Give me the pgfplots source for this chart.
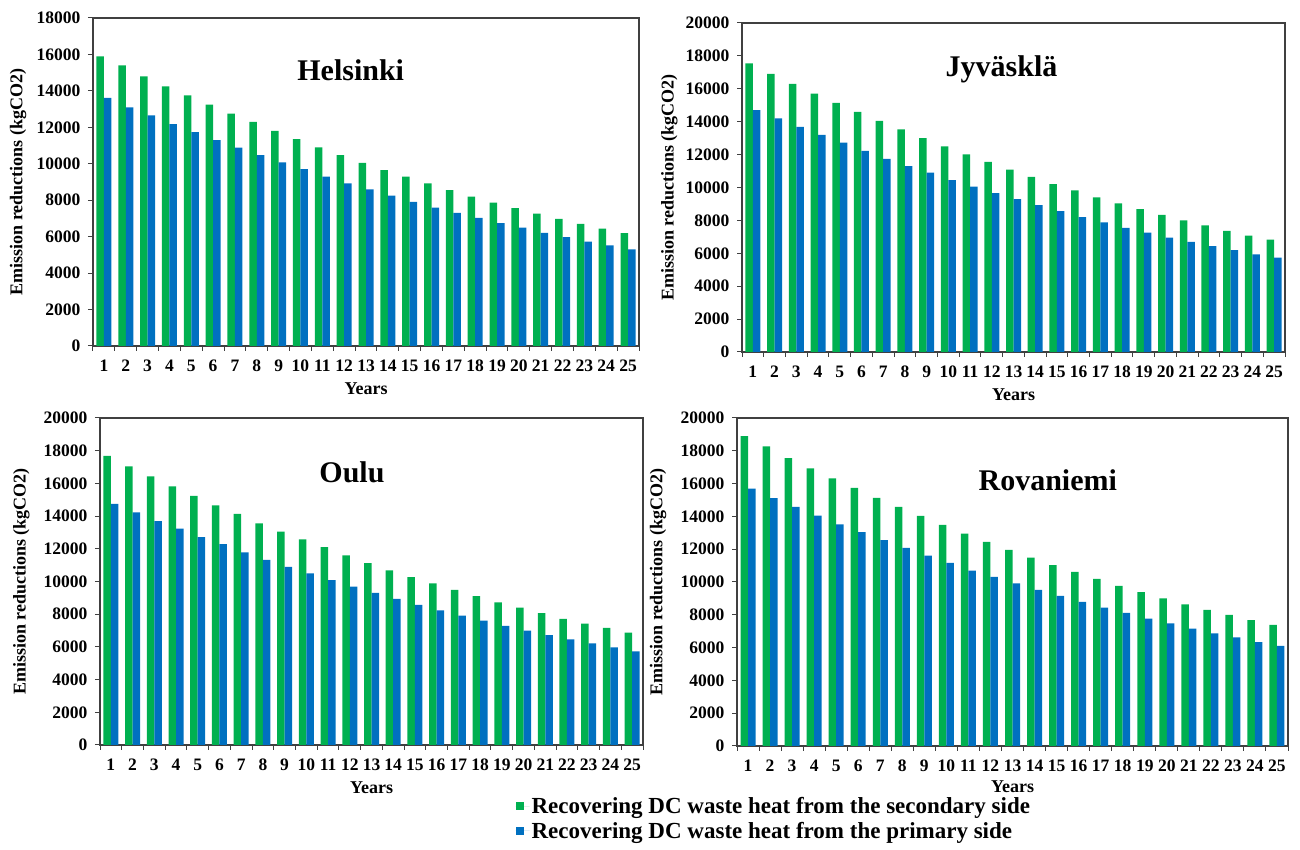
\documentclass[border=0pt]{standalone}
\usepackage{fontspec}
\setmainfont{Liberation Serif}
\usepackage{pgfplots}
\pgfplotsset{compat=1.18}
\usepackage{pgfplotstable}
\definecolor{cgreen}{RGB}{0,176,80}
\definecolor{cblue}{RGB}{0,112,192}
\definecolor{axgray}{RGB}{64,64,64}

\pgfplotstableread{
x g b
1 15900 13620
2 15400 13100
3 14800 12650
4 14250 12170
5 13750 11730
6 13250 11300
7 12750 10880
8 12300 10480
9 11800 10070
10 11350 9700
11 10900 9300
12 10480 8930
13 10050 8600
14 9650 8250
15 9300 7910
16 8920 7600
17 8560 7300
18 8200 7030
19 7870 6740
20 7560 6490
21 7260 6210
22 6980 5980
23 6700 5730
24 6440 5520
25 6200 5300
}\helsinki

\pgfplotstableread{
x g b
1 17550 14700
2 16900 14200
3 16300 13680
4 15700 13200
5 15150 12720
6 14600 12230
7 14050 11740
8 13530 11300
9 13000 10900
10 12500 10450
11 12020 10050
12 11550 9660
13 11090 9300
14 10650 8930
15 10200 8560
16 9820 8200
17 9400 7880
18 9040 7550
19 8680 7260
20 8330 6950
21 8000 6690
22 7690 6430
23 7370 6200
24 7080 5940
25 6830 5730
}\jyvaskyla

\pgfplotstableread{
x g b
1 17680 14740
2 17040 14230
3 16430 13700
4 15820 13240
5 15230 12710
6 14660 12280
7 14130 11780
8 13560 11330
9 13050 10900
10 12570 10500
11 12100 10090
12 11600 9690
13 11130 9300
14 10680 8930
15 10270 8570
16 9890 8240
17 9480 7920
18 9100 7610
19 8730 7290
20 8400 7000
21 8060 6720
22 7720 6460
23 7430 6210
24 7170 5970
25 6880 5730
}\oulu

\pgfplotstableread{
x g b
1 18900 15700
2 18270 15120
3 17560 14580
4 16930 14050
5 16320 13520
6 15740 13040
7 15130 12550
8 14580 12080
9 14030 11610
10 13480 11170
11 12950 10700
12 12450 10310
13 11960 9910
14 11490 9520
15 11030 9160
16 10620 8790
17 10190 8430
18 9770 8120
19 9380 7760
20 9000 7470
21 8630 7150
22 8300 6860
23 8000 6620
24 7680 6340
25 7390 6110
}\rovaniemi

\pgfplotsset{
  panel/.style={
    scale only axis, anchor=south west,
    ybar=0pt, bar width=7.5pt,
    xmin=0.5, xmax=25.5, ymin=0,
    xtick={1,...,25},
    minor xtick={0.5,1.5,...,25.5},
    tick align=outside, tick pos=left,
    major tick length=5pt, minor tick length=5pt,
    tick style={line width=1pt, color=axgray},
    major x tick style={draw=none},
    ytick distance=2000,
    scaled y ticks=false,
    /pgf/number format/assume math mode=true,
    yticklabel style={/pgf/number format/1000 sep={}, xshift=-4pt},
    xticklabel style={yshift=-5pt, text height=12pt, text depth=0pt},
    tick label style={font=\fontsize{17.5}{17.5}\selectfont\bfseries},
    axis line style={line width=1.3pt, color=axgray},
    label style={font=\fontsize{18}{18}\selectfont\bfseries},
    xlabel={Years},
    ylabel={Emission reductions (kgCO2)},
    xlabel style={at={(axis description cs:0.5,-0.131)}, anchor=center},
  },
  gbar/.style={fill=cgreen, draw=none},
  bbar/.style={fill=cblue, draw=none},
}

\begin{document}
\begin{tikzpicture}
\useasboundingbox (0pt,0pt) rectangle (1300pt,850pt);

% Helsinki
\begin{axis}[panel, at={(93pt,504pt)}, width=546pt, height=328pt, ymax=18000,
  ylabel style={at={(axis description cs:-0.137,0.5)}, anchor=center}]
\addplot[gbar] table[x=x,y=g]{\helsinki};
\addplot[bbar] table[x=x,y=b]{\helsinki};
\node[font=\fontsize{30}{30}\selectfont\bfseries] at (rel axis cs:0.472,0.84) {Helsinki};
\end{axis}

% Jyvaskyla
\begin{axis}[panel, at={(742pt,498pt)}, width=543pt, height=329pt, ymax=20000,
  ylabel style={at={(axis description cs:-0.134,0.5)}, anchor=center}]
\addplot[gbar] table[x=x,y=g]{\jyvaskyla};
\addplot[bbar] table[x=x,y=b]{\jyvaskyla};
\node[font=\fontsize{30}{30}\selectfont\bfseries] at (rel axis cs:0.478,0.86) {Jyväsklä};
\end{axis}

% Oulu
\begin{axis}[panel, at={(100pt,105pt)}, width=543pt, height=327pt, ymax=20000,
  ylabel style={at={(axis description cs:-0.145,0.5)}, anchor=center},
  legend style={draw=none, fill=none, at={(0.765,-0.153)}, anchor=north west,
    font=\fontsize{23}{23}\selectfont\bfseries, inner sep=0pt, row sep=3pt,
    cells={anchor=west}},
  legend image code/.code={\fill[#1] (0pt,-4pt) rectangle (8pt,4pt); \path (0pt,0pt) -- (14pt,0pt);}]
\addplot[gbar] table[x=x,y=g]{\oulu};
\addplot[bbar] table[x=x,y=b]{\oulu};
\node[font=\fontsize{30}{30}\selectfont\bfseries] at (rel axis cs:0.464,0.835) {Oulu};
\legend{Recovering DC waste heat from the secondary side, Recovering DC waste heat from the primary side}
\end{axis}

% Rovaniemi
\begin{axis}[panel, at={(737pt,104pt)}, width=551pt, height=328pt, ymax=20000,
  ylabel style={at={(axis description cs:-0.143,0.5)}, anchor=center},
  xlabel style={at={(axis description cs:0.5,-0.125)}, anchor=center}]
\addplot[gbar] table[x=x,y=g]{\rovaniemi};
\addplot[bbar] table[x=x,y=b]{\rovaniemi};
\node[font=\fontsize{30}{30}\selectfont\bfseries] at (rel axis cs:0.564,0.81) {Rovaniemi};
\end{axis}
\end{tikzpicture}
\end{document}
